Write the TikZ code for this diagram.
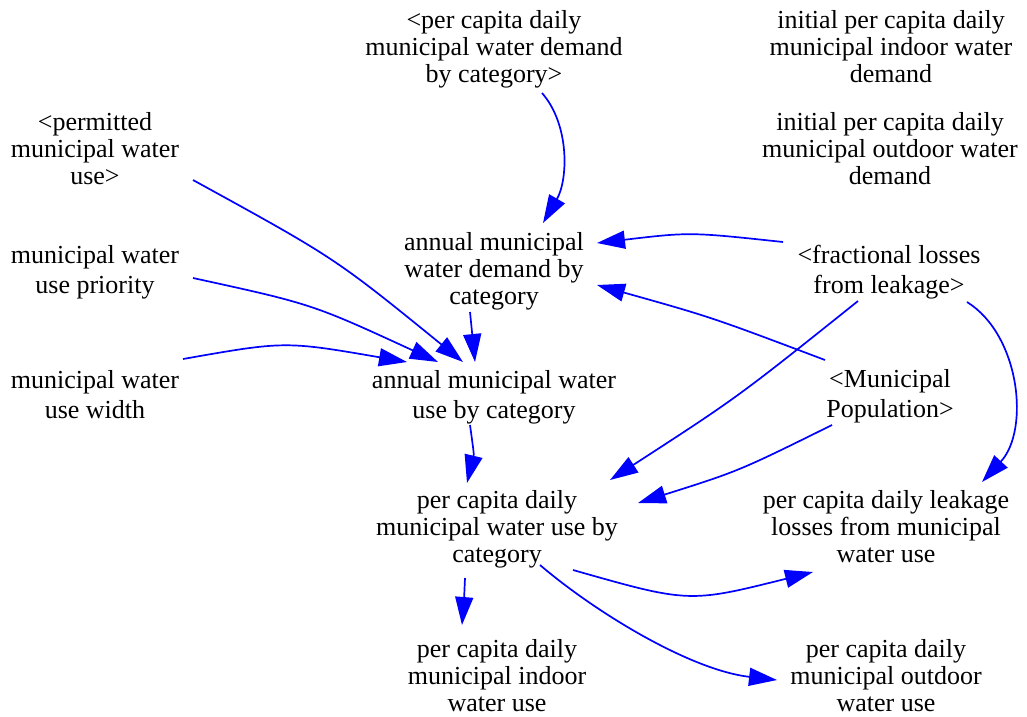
\documentclass[tikz,border=0pt]{standalone}
\usepackage{fontspec}
\setmainfont{Liberation Serif}
\usetikzlibrary{arrows.meta,calc}
\begin{document}
\begin{tikzpicture}[x=1pt,y=-1pt,
  var/.style={align=center,inner sep=0pt,anchor=base,font=\fontsize{26}{27}\selectfont},
  vartwo/.style={var,font=\fontsize{26}{30}\selectfont},
  link/.style={draw={rgb,255:red,0;green,0;blue,255},line width=1.7pt,
    -{Triangle[length=28pt,width=18pt]}}]
\useasboundingbox (0,0) rectangle (1027,716);

% variables (placed by the baseline of their last line)
\node[var]    (dem)   at (494,82)  {<per capita daily\\municipal water demand\\by category>};
\node[var]    (iin)   at (891,82)  {initial per capita daily\\municipal indoor water\\demand};
\node[var]    (iout)  at (890,184) {initial per capita daily\\municipal outdoor water\\demand};
\node[var]    (perm)  at (95,184)  {<permitted\\municipal water\\use>};
\node[vartwo] (prio)  at (95,293)  {municipal water\\use priority};
\node[vartwo] (wid)   at (95,418)  {municipal water\\use width};
\node[var]    (adem)  at (494,304) {annual municipal\\water demand by\\category};
\node[vartwo] (frac)  at (889,293) {<fractional losses\\from leakage>};
\node[vartwo] (ause)  at (494,418) {annual municipal water\\use by category};
\node[vartwo] (pop)   at (890,417) {<Municipal\\Population>};
\node[var]    (puse)  at (497,562) {per capita daily\\municipal water use by\\category};
\node[var]    (leak)  at (886,562) {per capita daily leakage\\losses from municipal\\water use};
\node[var]    (pin)   at (497,711) {per capita daily\\municipal indoor\\water use};
\node[var]    (pout)  at (886,711) {per capita daily\\municipal outdoor\\water use};

% causal links
\draw[link] ($(dem.base)+(48,11)$) .. controls (570,125) and (568,180) .. ($(adem.base)+(49,-81)$);
\draw[link] ($(frac.base)+(-106,-51)$) .. controls (690,232) .. ($(adem.base)+(103,-61)$);
\draw[link] ($(pop.base)+(-65,-57)$) .. controls (711,317) .. ($(adem.base)+(103,-19)$);
\draw[link] ($(perm.base)+(98,-4)$) .. controls (335,258) .. ($(ause.base)+(-31,-56)$);
\draw[link] ($(prio.base)+(98,-15)$) .. controls (312,304) .. ($(ause.base)+(-56,-56)$);
\draw[link] ($(wid.base)+(88,-59)$) .. controls (285,341) .. ($(ause.base)+(-87,-56)$);
\draw[link] ($(adem.base)+(-24,8)$) -- ($(ause.base)+(-19,-56)$);
\draw[link] ($(ause.base)+(-24,7)$) .. controls (474,454) .. ($(puse.base)+(-30,-79)$);
\draw[link] ($(frac.base)+(-31,8)$) .. controls (738,397) .. ($(puse.base)+(113,-82)$);
\draw[link] ($(pop.base)+(-58,8)$) .. controls (739,471) .. ($(puse.base)+(141,-59)$);
\draw[link] ($(frac.base)+(78,9)$) .. controls (1020,335) and (1030,430) .. ($(leak.base)+(96,-80)$);
\draw[link] ($(puse.base)+(76,8)$) .. controls (689,603) .. ($(leak.base)+(-73,10)$);
\draw[link] ($(puse.base)+(43,3)$) .. controls (595,612) and (690,670) .. ($(pout.base)+(-109,-31)$);
\draw[link] ($(puse.base)+(-32,16)$) .. controls (464,600) .. ($(pin.base)+(-35,-86)$);
\end{tikzpicture}
\end{document}
